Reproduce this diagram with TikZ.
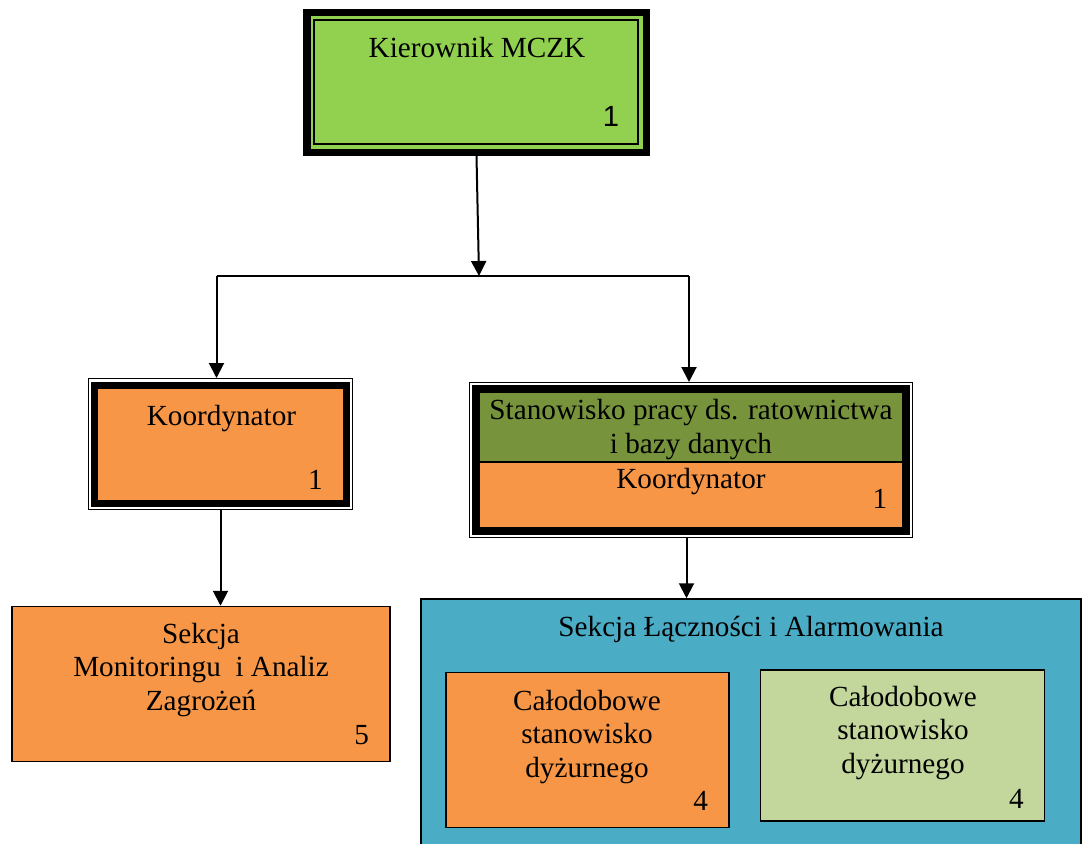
\documentclass[tikz,border=0pt]{standalone}
\usepackage{fontspec}
\setmainfont{Liberation Serif}
\newfontfamily\arialfont{Liberation Sans}
\usepackage{tikz}
\usetikzlibrary{arrows.meta,calc}
\definecolor{limegreen}{HTML}{92D050}
\definecolor{orng}{HTML}{F79646}
\definecolor{darkolive}{HTML}{77933C}
\definecolor{seablue}{HTML}{4BACC6}
\definecolor{palegreen}{HTML}{C3D69B}
\tikzset{
	frame/.style={draw, line width=1pt, inner sep=0pt},
	heavy/.style={draw, inner sep=0pt},
	box/.style={draw, line width=1.5pt, inner sep=0pt},
	txt/.style={anchor=base, inner sep=0pt, align=center, font=\fontsize{29.2}{33.5}\selectfont},
	conn/.style={line width=2pt}
}

\begin{document}
\begin{tikzpicture}[x=1pt,y=-1pt,>={Triangle[length=15pt,width=15pt]}]
		\clip (0,0) rectangle (1083,843);
		% kierownik
		\node[heavy, line width=7.5pt, fill=limegreen, minimum width=339.5pt, minimum height=139.5pt] (kier) at (476.5,82.5) {};
		\node[frame, line width=1.5pt, minimum width=324pt, minimum height=124pt] (kierin) at (476,82) {};
		\node[txt] (kiert) at (477,58) {Kierownik MCZK};
		\node[txt, font=\arialfont\fontsize{29.2}{33.5}\selectfont] (kiern) at (611,126) {1};
		% koordynator (lewy)
		\node[frame, minimum width=264pt, minimum height=131pt] (koorl) at (220.5,444) {};
		\node[heavy, line width=7pt, fill=orng, minimum width=252pt, minimum height=118pt] (koorlin) at (220.5,444.5) {};
		\node[txt] (koorlt) at (221.5,425) {Koordynator};
		\node[txt] (koorln) at (315.5,489) {1};
		% stanowisko (prawy)
		\node[frame, minimum width=443pt, minimum height=155pt] (stan) at (691,460) {};
		\node[heavy, line width=8pt, fill=orng, minimum width=430pt, minimum height=142pt] (stanin) at (691,460) {};
		\node[heavy, line width=2pt, fill=darkolive, minimum width=424pt, minimum height=70pt] (stanhead) at (691,427) {};
		\node[txt] (stant) at (691,453.3) {Stanowisko pracy ds. ratownictwa\\i bazy danych};
		\node[txt] (stank) at (691,488.3) {Koordynator};
		\node[txt] (stann) at (880,508) {1};
		% sekcje
		\node[box, fill=orng, minimum width=378pt, minimum height=155pt] (sekm) at (201,684) {};
		\node[txt] (sekmt) at (201,710) {Sekcja\\Monitoringu\ \ i Analiz\\Zagrożeń};
		\node[txt] (sekmn) at (361.7,744) {5};
		\node[box, fill=seablue, minimum width=660pt, minimum height=280pt] (sekl) at (751,739) {};
		\node[txt] (seklt) at (751,636.7) {Sekcja Łączności i Alarmowania};
		\node[box, fill=orng, minimum width=283pt, minimum height=154.6pt] (calo) at (587.5,750) {};
		\node[txt] (calot) at (587,777) {Całodobowe\\stanowisko\\dyżurnego};
		\node[txt] (calon) at (700.7,810.7) {4};
		\node[box, fill=palegreen, minimum width=284.4pt, minimum height=151pt] (calp) at (902.5,745.5) {};
		\node[txt] (calpt) at (903,773) {Całodobowe\\stanowisko\\dyżurnego};
		\node[txt] (calpn) at (1016.3,808.3) {4};
		% polaczenia
		\coordinate (jmid) at (479,276);
		\coordinate (jl) at (216.5,276);
		\coordinate (jr) at (689,276);
		\draw[conn,->] (kier.south) -- (jmid);
		\draw[conn] (jl) -- (jr);
		\draw[conn,->] (jl) -- (jl |- koorl.north);
		\draw[conn,->] (jr) -- (jr |- stan.north);
		\draw[conn,->] (koorl.south) -- (koorl.south |- sekm.north);
		\draw[conn,->] ([xshift=-4.5pt]stan.south) -- ([xshift=-4.5pt]stan.south |- sekl.north);
	\end{tikzpicture}
\end{document}
